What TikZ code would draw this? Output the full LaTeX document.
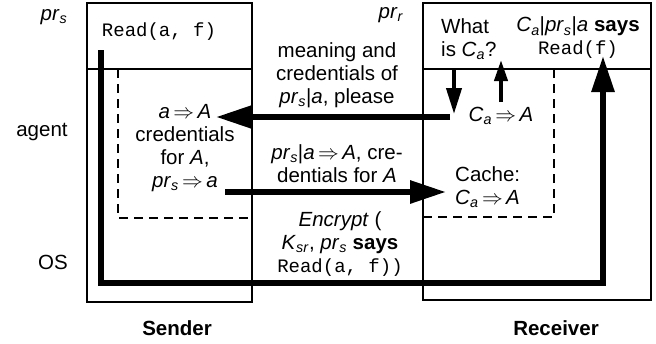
\documentclass[tikz,border=0pt]{standalone}
\usepackage{fontspec}
\setmainfont{Liberation Sans}
\setmonofont{Liberation Mono}
\usepackage{tikz}
\usetikzlibrary{arrows.meta,positioning}

\newcommand{\prs}{\textit{pr}\textsubscript{\textit{s}}}
\newcommand{\prr}{\textit{pr}\textsubscript{\textit{r}}}
\newcommand{\Ca}{\textit{C}\textsubscript{\textit{a}}}
\newcommand{\Ksr}{\textit{K}\textsubscript{\textit{sr}}}
\newcommand{\imp}{\,$\Rightarrow$\,}
\newcommand{\lbl}{\fontsize{20.5}{23}\selectfont}
\newcommand{\code}[1]{{\fontsize{19}{23}\selectfont\texttt{#1}}}

\begin{document}
\begin{tikzpicture}[x=1pt, y=-1pt,
    frame/.style={draw, line width=1.3pt},
    dashframe/.style={draw, line width=1.4pt, dash pattern=on 9pt off 6pt},
    txt/.style={inner sep=0pt, align=center, font=\lbl},
    flow/.style={line width=6pt, -{Triangle[length=36pt,width=22pt]}},
    query/.style={line width=4pt, -{Triangle[length=26pt,width=15pt]}},
    reply/.style={line width=4pt, -{Triangle[length=21pt,width=13pt]}}
]
    \useasboundingbox (0,0) rectangle (656,343);

    % hosts
    \draw[frame] (87,3) rectangle (252,302);
    \draw[frame] (87,69) -- (252,69);
    \draw[frame] (423,3) rectangle (651,300);
    \draw[frame] (423,69) -- (651,69);
    \draw[dashframe] (118,69) -- (118,218) -- (252,218);
    \draw[dashframe] (423,217) -- (554,217) -- (554,69);

    % layer names
    \node[txt] (lprs) at (54,17) {\prs};
    \node[txt] (lagent) at (42,132) {agent};
    \node[txt] (los) at (53,262) {OS};
    \node[txt] (lprr) at (391,15) {\prr};

    \node[txt] (sread) at (159,32) {\code{Read(a, f)}};
    \node[txt, align=left, anchor=west] (what) at (441,39) {What\\is \Ca?};
    \node[txt] (says) at (578,38) {\Ca|\prs|\textit{a} \textbf{says}\\\code{Read(f)}};
    \node[txt] (cachea) at (501,116) {\Ca\imp\textit{A}};
    \node[txt, align=left, anchor=west] (cacheb) at (455,187) {Cache:\\\Ca\imp\textit{A}};

    \node[txt] (sagent) at (185,148) {\textit{a}\imp\textit{A}\\credentials\\for \textit{A},\\\prs\imp\textit{a}};
    \node[txt] (req) at (337,75) {meaning and\\credentials of\\\prs|\textit{a}, please};
    \node[txt] (resp) at (337,164) {\prs|\textit{a}\imp\textit{A}, cre-\\dentials for \textit{A}};
    \node[txt] (enc) at (340,244) {\textit{Encrypt} (\\\Ksr, \prs\ \textbf{says}\\\code{Read(a, f))}};

    \node[txt, font=\lbl\bfseries] (sender) at (177,328) {Sender};
    \node[txt, font=\lbl\bfseries] (receiver) at (556,328) {Receiver};

    % message path
    \coordinate (s1) at (101,50);
    \coordinate (s2) at (101,283);
    \coordinate (r2) at (603,283);
    \coordinate (r1) at (603,56);
    \draw[flow] (s1) -- (s2) -- (r2) -- (r1);

    \coordinate (qa) at (450,117);
    \coordinate (qb) at (216,117);
    \draw[flow] (qa) -- (qb);
    \coordinate (pa) at (225,192);
    \coordinate (pb) at (446,192);
    \draw[flow] (pa) -- (pb);

    \coordinate (da) at (454,69);
    \coordinate (db) at (454,114);
    \draw[query] (da) -- (db);
    \coordinate (ua) at (501,102);
    \coordinate (ub) at (501,60);
    \draw[reply] (ua) -- (ub);
\end{tikzpicture}
\end{document}
